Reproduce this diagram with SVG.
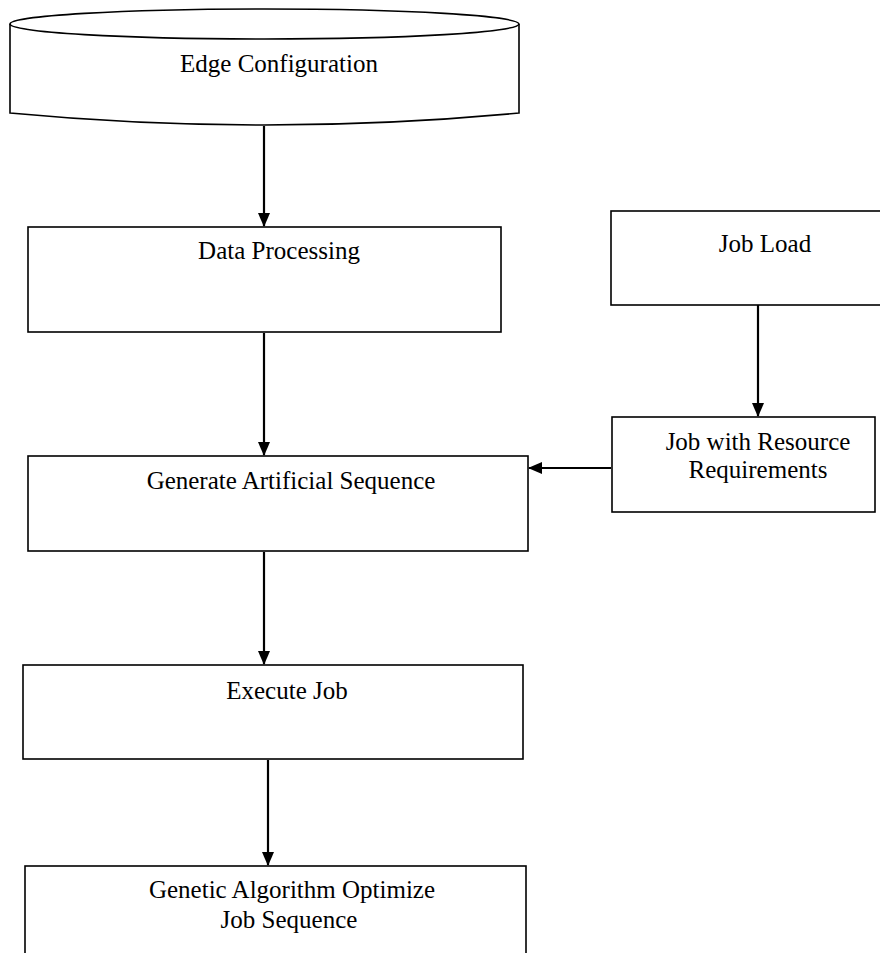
<svg xmlns="http://www.w3.org/2000/svg" width="880" height="953" viewBox="0 0 880 953">
<style>
.box{fill:#fff;stroke:#000;stroke-width:1.6}
.t{font-family:"Liberation Serif","Times New Roman",serif;font-size:25px;fill:#000;text-anchor:middle}
.c{stroke:#000;stroke-width:2.2;fill:none}
</style>
<defs>
<marker id="ah" markerWidth="10" markerHeight="10" refX="9" refY="5" orient="auto" markerUnits="userSpaceOnUse" viewBox="0 0 10 10">
<path d="M0,0 L10,5 L0,10 Z" fill="#000"/>
</marker>
<marker id="ahL" markerWidth="14" markerHeight="12" refX="13" refY="6" orient="auto" markerUnits="userSpaceOnUse" viewBox="0 0 14 12">
<path d="M0,0 L14,6 L0,12 Z" fill="#000"/>
</marker>
</defs>
<rect width="880" height="953" fill="#fff"/>
<g id="edge-config">
<path class="box" d="M10,24 L10,113 Q264.5,137 519,113 L519,24"/>
<ellipse class="box" cx="264.5" cy="24" rx="254.5" ry="15"/>
<text class="t" x="279" y="72">Edge Configuration</text>
</g>
<g id="data-processing">
<rect class="box" x="28" y="227" width="473" height="105"/>
<text class="t" x="279" y="259">Data Processing</text>
</g>
<g id="job-load">
<rect class="box" x="611" y="211" width="270" height="94"/>
<text class="t" x="765" y="252">Job Load</text>
</g>
<g id="job-resource">
<rect class="box" x="612" y="417" width="263" height="95"/>
<text class="t" x="758" y="450">Job with Resource</text>
<text class="t" x="758" y="478">Requirements</text>
</g>
<g id="generate">
<rect class="box" x="28" y="456" width="500" height="95"/>
<text class="t" x="291" y="489">Generate Artificial Sequence</text>
</g>
<g id="execute">
<rect class="box" x="23" y="665" width="500" height="94"/>
<text class="t" x="287" y="699">Execute Job</text>
</g>
<g id="genetic">
<rect class="box" x="25" y="866" width="501" height="100"/>
<text class="t" x="292" y="898">Genetic Algorithm Optimize</text>
<text class="t" x="289" y="928">Job Sequence</text>
</g>
<g id="connectors">
<line class="c" x1="264" y1="126" x2="264" y2="226" marker-end="url(#ahL)"/>
<line class="c" x1="264" y1="333" x2="264" y2="455" marker-end="url(#ahL)"/>
<line class="c" x1="758" y1="305" x2="758" y2="416" marker-end="url(#ahL)"/>
<line class="c" x1="611" y1="468" x2="529" y2="468" marker-end="url(#ahL)"/>
<line class="c" x1="264" y1="552" x2="264" y2="664" marker-end="url(#ahL)"/>
<line class="c" x1="268" y1="760" x2="268" y2="865" marker-end="url(#ahL)"/>
</g>
</svg>
